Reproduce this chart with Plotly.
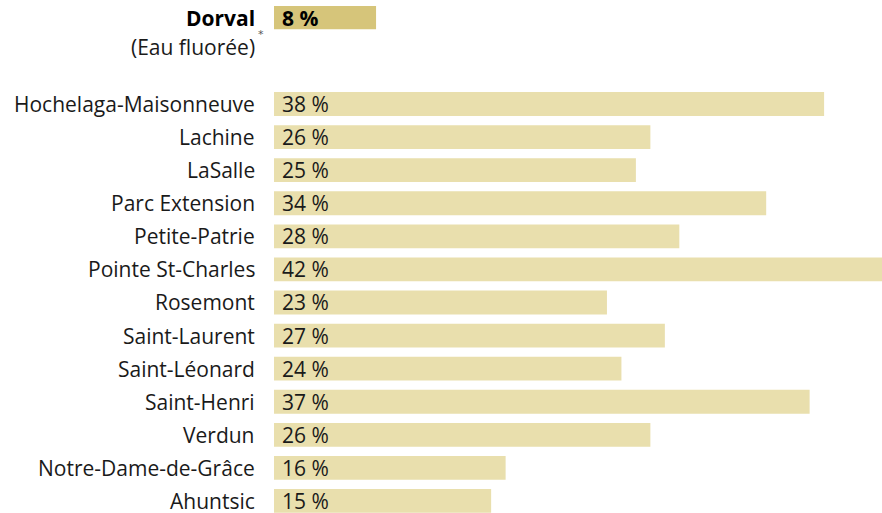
import plotly.graph_objects as go

# Data
quartiers = ["Hochelaga-Maisonneuve", "Lachine", "LaSalle", "Parc Extension",
             "Petite-Patrie", "Pointe St-Charles", "Rosemont", "Saint-Laurent",
             "Saint-Léonard", "Saint-Henri", "Verdun", "Notre-Dame-de-Grâce", "Ahuntsic"]
valeurs = [38, 26, 25, 34, 28, 42, 23, 27, 24, 37, 26, 16, 15]
dorval_nom = "Dorval"
dorval_note = "(Eau fluorée)"
dorval_barre = 7.05   # bar length as drawn in the picture
dorval_etiquette = "8 %"

positions = list(range(len(quartiers)))
dorval_pos = -2.61

FONT = "Open Sans"
FS = 21
LIGHT = "#E9DFAD"
DARK = "#D6C57A"

fig = go.Figure()
fig.add_trace(go.Bar(x=valeurs, y=positions, orientation="h",
                     marker=dict(color=LIGHT, line=dict(width=0)), width=0.72,
                     hoverinfo="skip"))
fig.add_trace(go.Bar(x=[dorval_barre], y=[dorval_pos], orientation="h",
                     marker=dict(color=DARK, line=dict(width=0)), width=0.70,
                     hoverinfo="skip"))

ann = []
for q, v, p in zip(quartiers, valeurs, positions):
    ann.append(dict(x=0, y=p, xref="x", yref="y", text=q, xanchor="right",
                    yanchor="middle", xshift=-17, showarrow=False,
                    font=dict(family=FONT, size=FS, color="#1a1a1a")))
    ann.append(dict(x=0, y=p, xref="x", yref="y", text=f"{v} %", xanchor="left",
                    yanchor="middle", xshift=6, showarrow=False,
                    font=dict(family=FONT, size=FS, color="#1a1a1a")))
ann.append(dict(x=0, y=dorval_pos, xref="x", yref="y", text="<b>" + dorval_nom + "</b>",
                xanchor="right", yanchor="middle", xshift=-17, showarrow=False,
                font=dict(family=FONT, size=FS, color="#000")))
ann.append(dict(x=0, y=dorval_pos, xref="x", yref="y", text="*",
                xanchor="center", yanchor="middle", xshift=-13, yshift=-17,
                showarrow=False, font=dict(family="DejaVu Sans", size=11, color="#555")))
ann.append(dict(x=0, y=dorval_pos + 0.88, xref="x", yref="y", text=dorval_note,
                xanchor="right", yanchor="middle", xshift=-17, showarrow=False,
                font=dict(family=FONT, size=FS, color="#1a1a1a")))
ann.append(dict(x=0, y=dorval_pos, xref="x", yref="y", text="<b>" + dorval_etiquette + "</b>",
                xanchor="left", yanchor="middle", xshift=6, showarrow=False,
                font=dict(family=FONT, size=FS, color="#000")))

fig.update_layout(
    width=882, height=513,
    margin=dict(l=274, r=0, t=0, b=0),
    paper_bgcolor="white", plot_bgcolor="white",
    showlegend=False, barmode="overlay",
    annotations=ann,
    xaxis=dict(range=[0, 42], visible=False, fixedrange=True),
    yaxis=dict(range=[12.364, -3.144], visible=False, fixedrange=True),
)
fig.write_html("out.html", config={"displayModeBar": False},
               post_script="document.body.style.margin='0';document.body.style.overflow='hidden';")
